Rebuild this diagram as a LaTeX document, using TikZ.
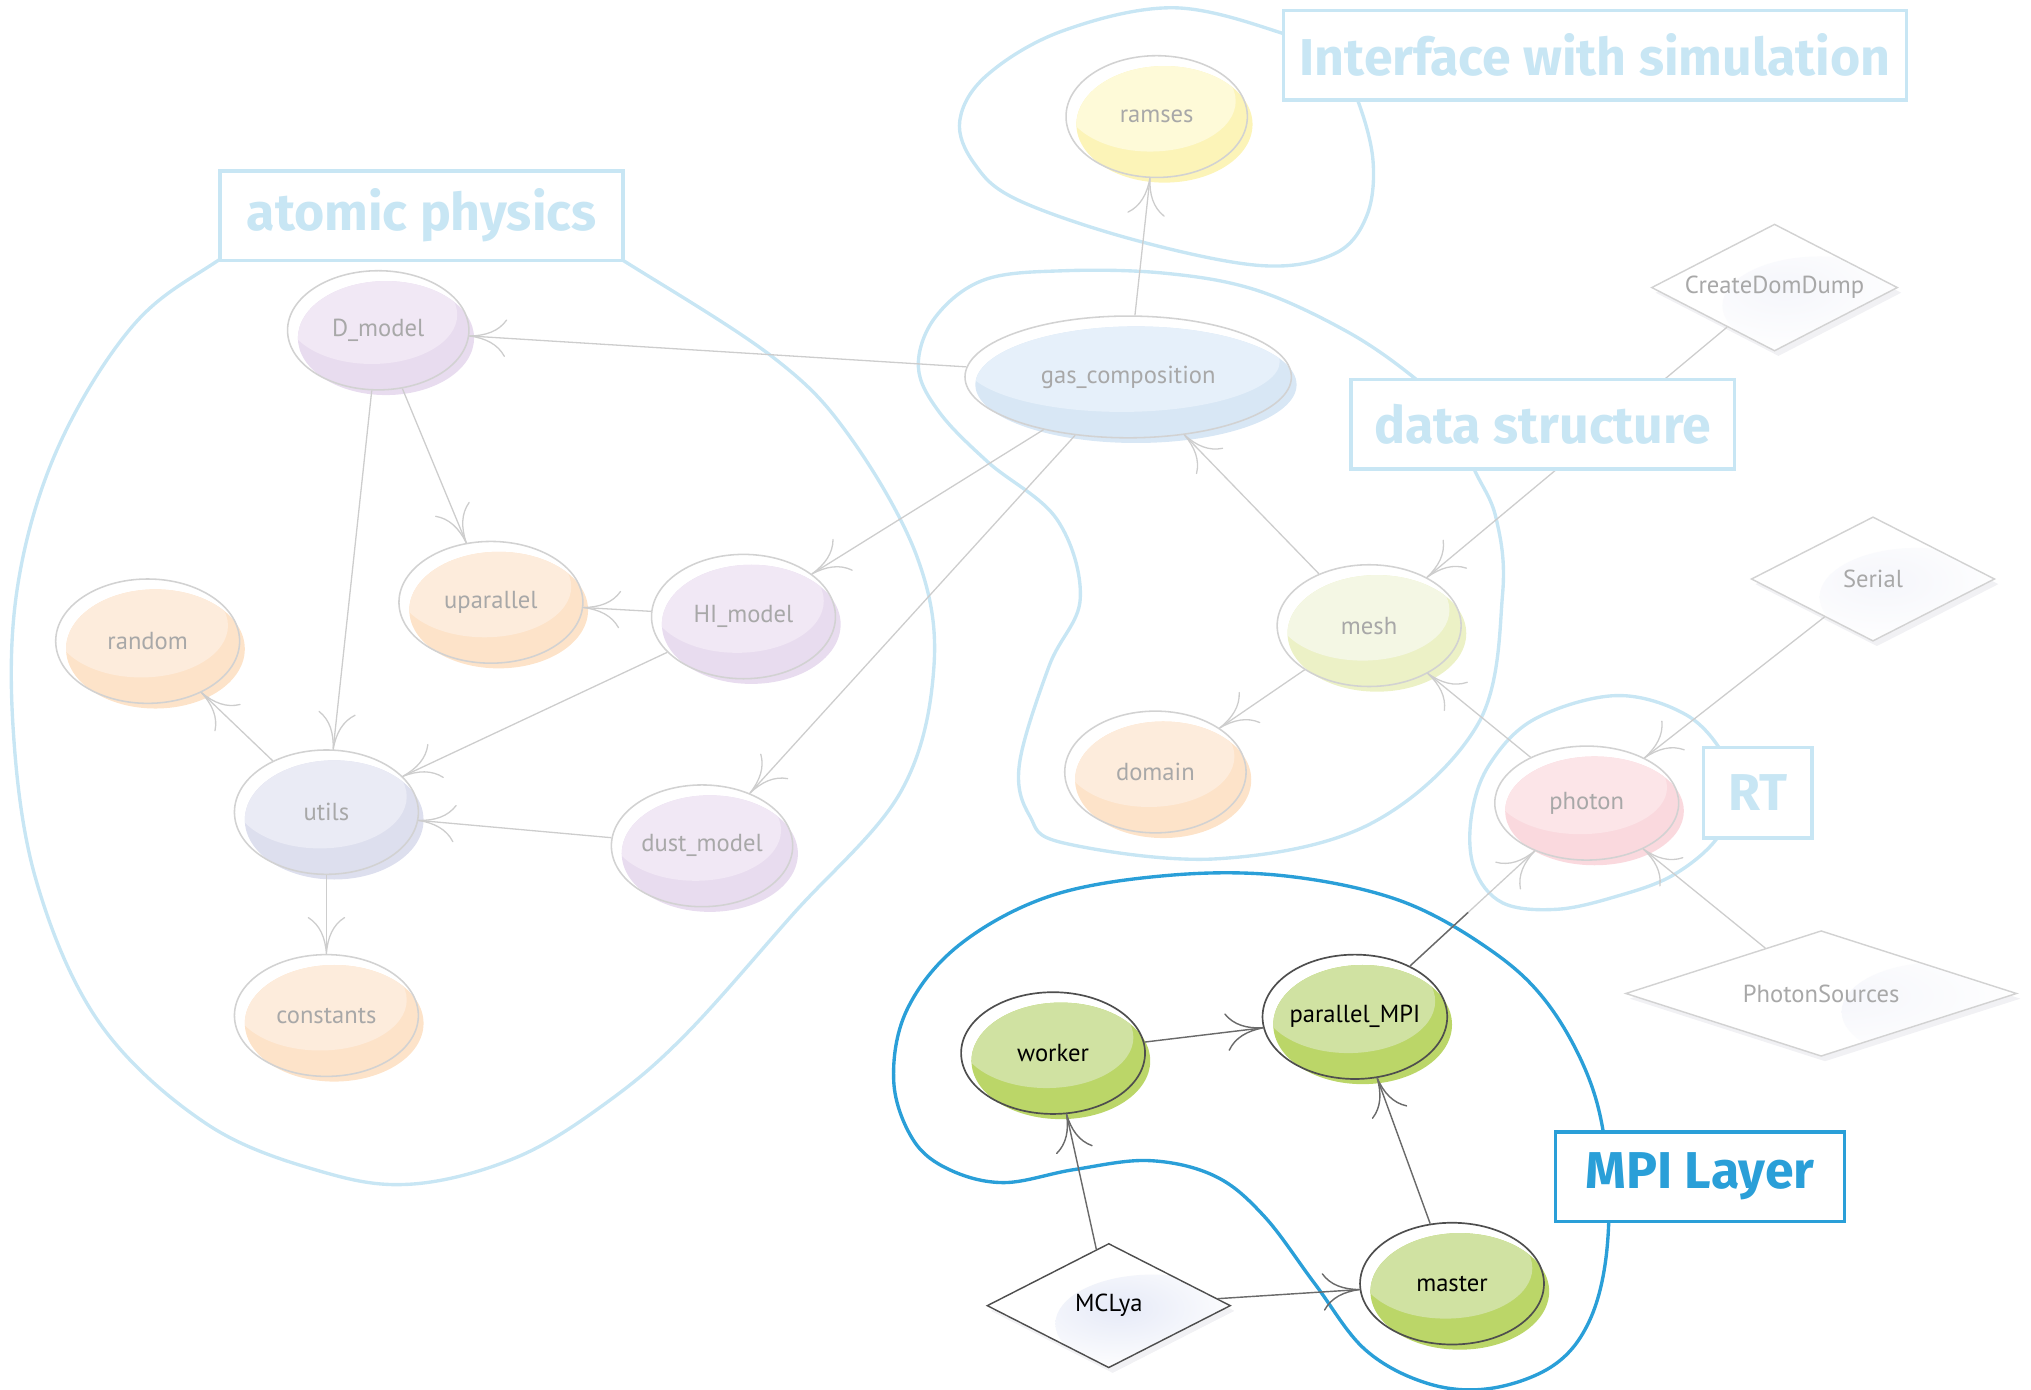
\documentclass[tikz,border=0pt]{standalone}
\usepackage{fontspec}
\setmainfont{PT Sans}
\newfontfamily\tagfont{Fira Sans}
\usetikzlibrary{shapes.geometric,arrows.meta}

% palette
\definecolor{grpline}{HTML}{C8E6F4}
\definecolor{mpiblue}{HTML}{2A9FD8}
\definecolor{fadeline}{HTML}{D2D2D2}
\definecolor{fadetext}{HTML}{A8A8A8}
\definecolor{fadeedge}{HTML}{CDCDCD}
\definecolor{darkline}{HTML}{4E4E4E}
\definecolor{midedge}{HTML}{6A6A6A}
\definecolor{diashade}{HTML}{F1F1F4}
\definecolor{diatint}{HTML}{F5F6FB}
\definecolor{mclyatint}{HTML}{E6EAF7}
\definecolor{yeldark}{HTML}{FCF4B8}
\definecolor{yellight}{HTML}{FEFAD8}
\definecolor{bludark}{HTML}{D8E7F5}
\definecolor{blulight}{HTML}{E6F0FA}
\definecolor{lavdark}{HTML}{E8DCEF}
\definecolor{lavlight}{HTML}{F1E8F5}
\definecolor{peadark}{HTML}{FDE3C9}
\definecolor{pealight}{HTML}{FDECDC}
\definecolor{lildark}{HTML}{DDDFEE}
\definecolor{lillight}{HTML}{EAEBF5}
\definecolor{limedark}{HTML}{ECF1C6}
\definecolor{limelight}{HTML}{F4F7E4}
\definecolor{pinkdark}{HTML}{FAD9DE}
\definecolor{pinklight}{HTML}{FCE5E8}
\definecolor{grndark}{HTML}{BBD668}
\definecolor{grnlight}{HTML}{D0E2A2}

\newcommand{\nodefont}{\fontsize{19}{21}\selectfont}

% open arrow head with flaring barbs
\pgfdeclarearrow{
  name = Flare,
  defaults = {length = 24pt, width = 26pt, line width = +0pt 1 1},
  setup code = {
    \pgfarrowssettipend{+0pt}
    \pgfarrowssetlineend{+-0.5\pgfarrowlinewidth}
    \pgfarrowssetbackend{+-\pgfarrowlength}
    \pgfarrowssetvisualbackend{+-\pgfarrowlength}
    \pgfarrowsupperhullpoint{+-\pgfarrowlength}{+.5\pgfarrowwidth}
    \pgfarrowsupperhullpoint{+0pt}{+0pt}
    \pgfarrowssavethe\pgfarrowlinewidth
    \pgfarrowssavethe\pgfarrowlength
    \pgfarrowssavethe\pgfarrowwidth
  },
  drawing code = {
    \pgfsetdash{}{+0pt}
    \pgfsetroundcap
    \pgfsetroundjoin
    \pgfsetlinewidth{+\pgfarrowlinewidth}
    \pgfpathmoveto{\pgfqpoint{-\pgfarrowlength}{.5\pgfarrowwidth}}
    \pgfpathcurveto{\pgfqpoint{-.8\pgfarrowlength}{.18\pgfarrowwidth}}{\pgfqpoint{-.45\pgfarrowlength}{.03\pgfarrowwidth}}{\pgfqpoint{0pt}{0pt}}
    \pgfpathcurveto{\pgfqpoint{-.45\pgfarrowlength}{-.03\pgfarrowwidth}}{\pgfqpoint{-.8\pgfarrowlength}{-.18\pgfarrowwidth}}{\pgfqpoint{-\pgfarrowlength}{-.5\pgfarrowwidth}}
    \pgfusepathqstroke
  },
  parameters = {\the\pgfarrowlinewidth,\the\pgfarrowlength,\the\pgfarrowwidth},
}

% module bubble: offset two-tone fill under an outlined ellipse
% [style]{name}{x}{y}{x radius}{y radius}{colour stem}{label}
\newcommand{\modnode}[8][fadenode]{%
  \fill[#7dark] (#3+6,#4+6) ellipse [x radius=#5-2, y radius=#6-2];
  \begin{scope}
    \clip (#3+6,#4+6) ellipse [x radius=#5-2, y radius=#6-2];
    \fill[#7light] (#3-5,#4-12) ellipse [x radius=#5-4, y radius=#6-8];
  \end{scope}
  \node[#1, minimum width=2*#5, minimum height=2*#6] (#2) at (#3,#4) {#8};
}

\begin{document}
\begin{tikzpicture}[x=1pt,y=-1pt,
  fadenode/.style={ellipse, draw=fadeline, line width=1.2pt, inner sep=0pt, text=fadetext, font=\nodefont},
  mpinode/.style={ellipse, draw=darkline, line width=1.3pt, inner sep=0pt, text=black, font=\nodefont},
  fadediam/.style={diamond, draw=fadeline, line width=1.1pt, fill=white, inner sep=0pt, shape aspect=2,
    text=fadetext, font=\nodefont,
    preaction={fill=diashade, transform canvas={shift={(3pt,-4pt)}}},
    path picture={\shade[inner color=diatint, outer color=white]
      ([xshift=-60pt,yshift=-14pt]path picture bounding box.east) ellipse [x radius=75pt, y radius=38pt];}},
  mpidiam/.style={fadediam, draw=darkline, text=black,
    preaction={fill=diashade, transform canvas={shift={(3pt,-4pt)}}},
    path picture={\shade[inner color=mclyatint, outer color=white]
      ([xshift=-60pt,yshift=-14pt]path picture bounding box.east) ellipse [x radius=75pt, y radius=38pt];}},
  link/.style={draw=fadeedge, line width=1pt, -{Flare[length=28pt,width=28pt]}},
  mpilink/.style={draw=midedge, line width=1.1pt, -{Flare[length=28pt,width=28pt]}},
  grp/.style={draw=grpline, line width=2.6pt},
  mpigrp/.style={draw=mpiblue, line width=2.6pt},
  grptag/.style={rectangle, draw=grpline, line width=2.8pt, fill=white, text=grpline, inner sep=0pt,
    font=\tagfont\bfseries\fontsize{40}{44}\selectfont},
  mpitag/.style={grptag, draw=mpiblue, text=mpiblue}
]
\useasboundingbox (0,0) rectangle (1568,1073);

% ---- group outlines ----
\draw[grp] plot[smooth cycle, tension=0.6] coordinates {
  (170,200) (103,251) (45,345) (14,450) (10,560) (28,680) (77,790) (160,868)
  (250,905) (320,914) (400,893) (470,850) (530,798) (612,706) (695,612) (721,515)
  (708,430) (656,337) (597,276) (481,201) (400,152) (250,152)};
\draw[grp] plot[smooth cycle, tension=0.6] coordinates {
  (991,26) (906,6) (820,24) (762,58) (741,93) (752,126) (785,154) (875,185)
  (973,205) (1030,196) (1055,167) (1060,124) (1048,77) (1030,45)};
\draw[grp] plot[smooth cycle, tension=0.6] coordinates {
  (1091,291) (1040,256) (970,224) (900,211) (822,209) (760,216) (722,245) (709,283)
  (725,318) (763,357) (816,401) (834,462) (810,514) (787,590) (795,630) (822,651)
  (940,663) (1058,636) (1141,559) (1160,459) (1155,400) (1138,362) (1120,320)};
\draw[grp] plot[smooth cycle, tension=0.6] coordinates {
  (1248,537) (1302,552) (1332,585) (1338,615) (1325,648) (1291,676) (1248,692)
  (1202,702) (1160,697) (1138,670) (1136,630) (1150,590) (1185,555)};
\draw[mpigrp] plot[smooth cycle, tension=0.6] coordinates {
  (733,903) (775,913) (829,903) (887,896) (938,908) (976,939) (1015,991) (1054,1042)
  (1102,1068) (1150,1072) (1198,1055) (1226,1022) (1240,970) (1241,900) (1228,836)
  (1195,775) (1150,733) (1080,695) (990,676) (900,676) (810,692) (740,730) (700,780)
  (690,835) (705,880)};

% ---- modules ----
\modnode{ramses}{893}{90}{70}{47}{yel}{ramses}
\modnode{gas}{871}{291}{126}{47}{blu}{gas\_composition}
\modnode{dmodel}{292}{255}{70}{46}{lav}{D\_model}
\modnode{upar}{379}{465}{71}{47}{pea}{uparallel}
\modnode{himodel}{574}{476}{71}{48}{lav}{HI\_model}
\modnode{random}{114}{495}{71}{48}{pea}{random}
\modnode{utils}{252}{627}{71}{48}{lil}{utils}
\modnode{dust}{542}{653}{70}{47}{lav}{dust\_model}
\modnode{const}{252}{784}{71}{47}{pea}{constants}
\modnode{mesh}{1057}{483}{71}{47}{lime}{mesh}
\modnode{domain}{892}{596}{70}{47}{pea}{domain}
\modnode{photon}{1225}{620}{71}{44}{pink}{photon}
\modnode[mpinode]{pmpi}{1046}{785}{71}{48}{grn}{parallel\_MPI}
\modnode[mpinode]{worker}{813}{813}{71}{47}{grn}{worker}
\modnode[mpinode]{master}{1121}{991}{71}{47}{grn}{master}

% ---- programs ----
\node[fadediam, minimum width=190, minimum height=98] (cdd) at (1370,222) {CreateDomDump};
\node[fadediam, minimum width=188, minimum height=96] (serial) at (1446,447) {Serial};
\node[fadediam, minimum width=302, minimum height=97] (psrc) at (1406,767) {PhotonSources};
\node[mpidiam, minimum width=188, minimum height=96] (mclya) at (856,1008) {MCLya};

% ---- dependencies ----
\draw[link] (gas) -- (ramses);
\draw[link] (gas) -- (dmodel);
\draw[link] (gas) -- (himodel);
\draw[link] (gas) -- (dust);
\draw[link] (dmodel) -- (upar);
\draw[link] (dmodel) -- (utils);
\draw[link] (himodel) -- (upar);
\draw[link] (himodel) -- (utils);
\draw[link] (utils) -- (random);
\draw[link] (dust) -- (utils);
\draw[link] (utils) -- (const);
\draw[link] (mesh) -- (gas);
\draw[link] (mesh) -- (domain);
\draw[link] (photon) -- (mesh);
\draw[link] (cdd) -- (mesh);
\draw[link] (serial) -- (photon);
\draw[link] (psrc) -- (photon);
\draw[link] (pmpi) -- (photon);
\draw[draw=midedge, line width=1.1pt, shorten >=70pt] (pmpi) -- (photon);
\draw[mpilink] (worker) -- (pmpi);
\draw[mpilink] (mclya) -- (worker);
\draw[mpilink] (mclya) -- (master);
\draw[mpilink] (master) -- (pmpi);

% ---- group labels ----
\node[grptag, minimum width=481, minimum height=69] (tagsim) at (1231.5,42.5) {Interface with simulation};
\node[grptag, minimum width=311, minimum height=69] (tagatom) at (325.5,166.5) {atomic physics};
\node[grptag, minimum width=296, minimum height=69] (tagdata) at (1191,327.5) {data structure};
\node[grptag, minimum width=84, minimum height=70] (tagrt) at (1357,612) {RT};
\node[mpitag, minimum width=223, minimum height=69] (tagmpi) at (1312.5,908.5) {MPI Layer};
\end{tikzpicture}
\end{document}
